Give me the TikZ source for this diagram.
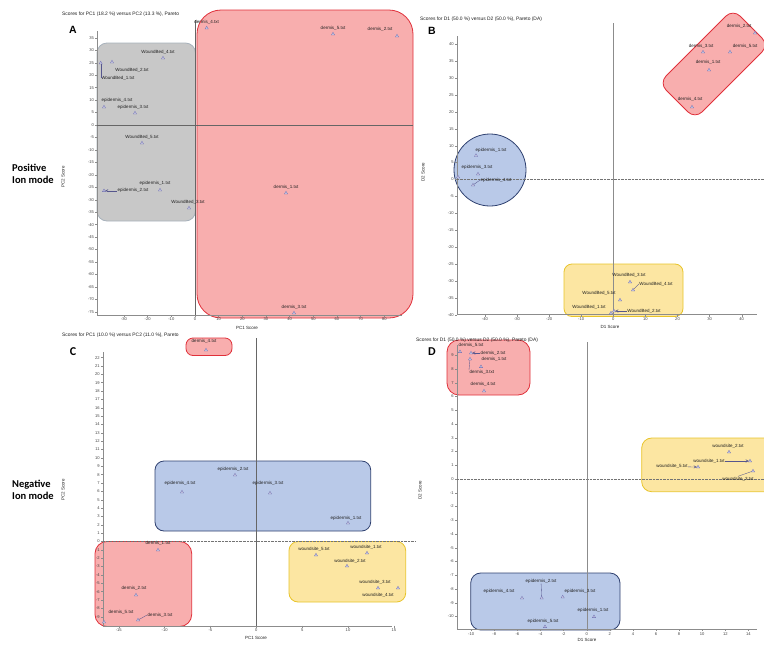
\documentclass[tikz,border=0pt]{standalone}
\usepackage{fontspec}
\setmainfont{Liberation Sans}
\newfontfamily\calib{Carlito}
\usetikzlibrary{arrows.meta, positioning, shapes.geometric}

\definecolor{redfill}{HTML}{F8AEAE}
\definecolor{redline}{HTML}{E0303A}
\definecolor{grayfill}{HTML}{C8C8C8}
\definecolor{grayline}{HTML}{A8B2BC}
\definecolor{bluefill}{HTML}{B9C9E8}
\definecolor{blueline}{HTML}{2F4170}
\definecolor{yelfill}{HTML}{FCE6A2}
\definecolor{yelline}{HTML}{E8C42A}
\definecolor{mkcol}{HTML}{6C6CB0}
\definecolor{txtcol}{HTML}{202020}
\definecolor{axcol}{HTML}{8C8C8C}

\begin{document}
\begin{tikzpicture}[x=1pt, y=-1pt, >=stealth, node distance=1.2pt]
    \tikzstyle{mk}=[regular polygon, regular polygon sides=3, draw=mkcol, fill=mkcol!35, minimum size=3.6pt, inner sep=0pt, line width=0.3pt]
    \tikzstyle{lbl}=[font=\fontsize{4.5}{5}\selectfont, text=txtcol, inner sep=0.4pt]
    \tikzstyle{tk}=[font=\fontsize{4.1}{4.5}\selectfont, text=txtcol!85, inner sep=0.8pt]
    \tikzstyle{ttl}=[font=\fontsize{4.9}{5}\selectfont, text=txtcol, anchor=west, inner sep=0pt]
    \tikzstyle{axname}=[font=\fontsize{4.5}{5}\selectfont, text=txtcol, inner sep=0pt]
    \tikzstyle{panel}=[font=\bfseries\fontsize{10.5}{11}\selectfont, inner sep=0pt]
    \tikzstyle{mode}=[font=\calib\bfseries\fontsize{10.5}{12}\selectfont, align=left, inner sep=0pt]
    \tikzstyle{axl}=[draw=axcol, line width=0.4pt]
    \tikzstyle{zl}=[draw=black!60, line width=0.45pt]
    \tikzstyle{dotl}=[draw=black!55, line width=0.4pt, dash pattern=on 0.6pt off 0.8pt]
    \tikzstyle{lead}=[draw=mkcol!80!black, line width=0.35pt]
    \tikzstyle{redbox}=[fill=redfill, draw=redline, line width=0.8pt]
    \tikzstyle{graybox}=[fill=grayfill, draw=grayline, line width=0.8pt]
    \tikzstyle{bluebox}=[fill=bluefill, draw=blueline, line width=0.8pt]
    \tikzstyle{yelbox}=[fill=yelfill, draw=yelline, line width=0.8pt]

    \useasboundingbox (0,0) rectangle (764,646);

    % row labels
    \node[mode, anchor=west] (pos) at (12,174) {Positive\\Ion mode};
    \node[mode, anchor=west] (neg) at (12,490) {Negative\\Ion mode};

    % ---------------- A ----------------
    \draw[graybox, rounded corners=10pt] (97,43) rectangle (195.5,221);
    \draw[redbox, rounded corners=24pt] (197,10) rectangle (413,318);
    \node[ttl] (ttlA) at (62,14) {Scores for PC1 (18.2 \%) versus PC2 (13.3 \%), Pareto};
    \node[panel] (A) at (73,30) {A};
    \draw[axl] (97,31) -- (97,315) -- (402,315);
    \foreach \v in {-75,-70,...,35}
        \draw[axl] (97,{125-2.49*\v}) -- ++(-2,0) node[tk, left] (Ay\v) {\v};
    \foreach \u in {-30,-20,...,80}
        \draw[axl] ({195+2.366*\u},315) -- ++(0,2) node[tk, below] (Ax\u) {\u};
    \draw[zl] (97,125) -- (413,125);
    \draw[zl] (195,20) -- (195,315);
    \node[axname] (xA) at (247,328) {PC1 Score};
    \node[axname, rotate=90] (yA) at (63,177) {PC2 Score};

    \node[mk] (aD4) at (206.7,28) {};
    \node[lbl, above=of aD4] (aD4l) {dermis\_4.txt};
    \node[mk] (aD5) at (333,34) {};
    \node[lbl, above=of aD5] (aD5l) {dermis\_5.txt};
    \node[mk] (aD2) at (397,36) {};
    \node[lbl] (aD2l) at (380,29) {dermis\_2.txt};
    \node[mk] (aW4) at (163,58) {};
    \node[lbl] (aW4l) at (158,52) {WoundBed\_4.txt};
    \node[mk] (aW2) at (112,62) {};
    \node[lbl] (aW2l) at (132,70) {WoundBed\_2.txt};
    \node[mk] (aW1) at (100.7,63) {};
    \node[lbl, anchor=west] (aW1l) at (100.7,78) {WoundBed\_1.txt};
    \draw[lead] (aW1) -- (aW1l.west);
    \node[mk] (aE4) at (104,107) {};
    \node[lbl] (aE4l) at (117,100) {epidermis\_4.txt};
    \node[mk] (aE3) at (135,113) {};
    \node[lbl] (aE3l) at (133,107) {epidermis\_3.txt};
    \node[mk] (aW5) at (142,143) {};
    \node[lbl, above=of aW5] (aW5l) {WoundBed\_5.txt};
    \node[mk] (aE1) at (160,190) {};
    \node[lbl] (aE1l) at (155,183) {epidermis\_1.txt};
    \node[mk] (aE2) at (104,190.7) {};
    \node[lbl] (aE2l) at (133,190.7) {epidermis\_2.txt};
    \draw[lead, ->] (aE2l) -- (aE2);
    \node[mk] (aW3) at (189,208) {};
    \node[lbl] (aW3l) at (188,202) {WoundBed\_3.txt};
    \node[mk] (aD1) at (286,193) {};
    \node[lbl, above=of aD1] (aD1l) {dermis\_1.txt};
    \node[mk] (aD3) at (294,313) {};
    \node[lbl, above=of aD3] (aD3l) {dermis\_3.txt};

    % ---------------- B ----------------
    \draw[redbox, rounded corners=10pt] (659,83) -- (733,9) -- (769,45) -- (695,119) -- cycle;
    \draw[bluebox] (490,170) circle (36pt);
    \draw[yelbox, rounded corners=8pt] (564,264) rectangle (683,316.5);
    \node[ttl] (ttlB) at (420,19) {Scores for D1 (50.0 \%) versus D2 (50.0 \%), Pareto (DA)};
    \node[panel] (B) at (432,31) {B};
    \draw[axl] (456.7,36) -- (456.7,314.5) -- (757,314.5);
    \foreach \v in {-40,-35,...,40}
        \draw[axl] (456.7,{179.5-3.38*\v}) -- ++(-2,0) node[tk, left] (By\v) {\v};
    \foreach \u in {-40,-30,...,40}
        \draw[axl] ({613.3+3.21*\u},314.5) -- ++(0,2) node[tk, below] (Bx\u) {\u};
    \draw[dotl] (456.7,179.5) -- (764,179.5);
    \draw[zl, draw=axcol] (613.3,23) -- (613.3,314.5);
    \node[axname] (xB) at (610,327) {D1 Score};
    \node[axname, rotate=90] (yB) at (423,172) {D2 Score};

    \node[mk] (bD2) at (755,33) {};
    \node[lbl] (bD2l) at (739,26) {dermis\_2.txt};
    \node[mk] (bD3) at (703,52) {};
    \node[lbl] (bD3l) at (701,46.5) {dermis\_3.txt};
    \node[mk] (bD5) at (730,52) {};
    \node[lbl] (bD5l) at (745,46.5) {dermis\_5.txt};
    \node[mk] (bD1) at (709,70) {};
    \node[lbl] (bD1l) at (708,62) {dermis\_1.txt};
    \node[mk] (bD4) at (692,107) {};
    \node[lbl] (bD4l) at (690,99) {dermis\_4.txt};
    \node[mk] (bE1) at (476,155.5) {};
    \node[lbl] (bE1l) at (491,150.5) {epidermis\_1.txt};
    \node[mk] (bE3) at (478,174) {};
    \node[lbl] (bE3l) at (477,167) {epidermis\_3.txt};
    \node[mk] (bE4) at (473,185) {};
    \node[lbl] (bE4l) at (496,180) {epidermis\_4.txt};
    \draw[lead] (bE4) -- (bE4l.west);
    \node[mk] (bE2) at (458,177) {};
    \node[mk] (bW3) at (630,282) {};
    \node[lbl] (bW3l) at (629,275) {WoundBed\_3.txt};
    \node[mk] (bW4) at (633,290) {};
    \node[lbl] (bW4l) at (656,284) {WoundBed\_4.txt};
    \draw[lead] (bW4) -- (bW4l.west);
    \node[mk] (bW5) at (620,300) {};
    \node[lbl] (bW5l) at (599,293) {WoundBed\_5.txt};
    \node[mk] (bW1) at (611,313) {};
    \node[lbl] (bW1l) at (589,307) {WoundBed\_1.txt};
    \node[mk] (bW2) at (614,311) {};
    \node[lbl] (bW2l) at (644,311) {WoundBed\_2.txt};
    \draw[lead, ->] (bW2l) -- (bW2);

    % ---------------- C ----------------
    \draw[redbox, rounded corners=7pt] (186,338) rectangle (232,355.5);
    \draw[bluebox, rounded corners=9pt] (155,461) rectangle (370.7,531);
    \draw[redbox, rounded corners=12pt] (95,541.5) rectangle (191.7,626.5);
    \draw[yelbox, rounded corners=9pt] (289,541.5) rectangle (405.7,602);
    \node[ttl] (ttlC) at (62,335) {Scores for PC1 (10.0 \%) versus PC2 (11.0 \%), Pareto};
    \node[panel, font=\calib\bfseries\fontsize{12}{12}\selectfont] (C) at (73,352) {C};
    \draw[axl] (102.7,352) -- (102.7,625.7) -- (392,625.7);
    \foreach \v in {-9,-8,...,22}
        \draw[axl] (102.7,{541.5-8.36*\v}) -- ++(-2,0) node[tk, left] (Cy\v) {\v};
    \foreach \u in {-15,-10,...,15}
        \draw[axl] ({256.3+9.17*\u},625.7) -- ++(0,2) node[tk, below] (Cx\u) {\u};
    \draw[dotl] (102.7,541.5) -- (415,541.5);
    \draw[zl] (256.6,338) -- (256.6,625.7);
    \node[axname] (xC) at (256,638) {PC1 Score};
    \node[axname, rotate=90] (yC) at (63,490) {PC2 Score};

    \node[mk] (cD4) at (206,350) {};
    \node[lbl] (cD4l) at (204,341.7) {dermis\_4.txt};
    \node[mk] (cE2) at (235,475) {};
    \node[lbl] (cE2l) at (233,469) {epidermis\_2.txt};
    \node[mk] (cE4) at (182,492) {};
    \node[lbl] (cE4l) at (180,483) {epidermis\_4.txt};
    \node[mk] (cE3) at (270,493) {};
    \node[lbl] (cE3l) at (268,483) {epidermis\_3.txt};
    \node[mk] (cE1) at (348,523) {};
    \node[lbl] (cE1l) at (346,518) {epidermis\_1.txt};
    \node[mk] (cD1) at (158,550) {};
    \node[lbl] (cD1l) at (158,543) {dermis\_1.txt};
    \node[mk] (cD2) at (136,595) {};
    \node[lbl] (cD2l) at (134,588) {dermis\_2.txt};
    \node[mk] (cD5) at (104,622) {};
    \node[lbl] (cD5l) at (121,612) {dermis\_5.txt};
    \node[mk] (cD3) at (138,620) {};
    \node[lbl] (cD3l) at (160,615) {dermis\_3.txt};
    \draw[lead] (cD3) -- (cD3l.west);
    \node[mk] (cW5) at (316,555) {};
    \node[lbl] (cW5l) at (314,549) {woundsite\_5.txt};
    \node[mk] (cW1) at (367,553) {};
    \node[lbl] (cW1l) at (366,547) {woundsite\_1.txt};
    \node[mk] (cW2) at (347,566) {};
    \node[lbl] (cW2l) at (350,561) {woundsite\_2.txt};
    \node[mk] (cW3) at (378,588) {};
    \node[lbl] (cW3l) at (375,582) {woundsite\_3.txt};
    \node[mk] (cW4) at (398,588) {};
    \node[lbl] (cW4l) at (378,595) {woundsite\_4.txt};

    % ---------------- D ----------------
    \draw[redbox, rounded corners=12pt] (447,340) rectangle (530,395);
    \draw[yelbox, rounded corners=10pt] (641.7,438) rectangle (775,491.7);
    \draw[bluebox, rounded corners=10pt] (470.7,573) rectangle (620,630);
    \node[ttl] (ttlD) at (416,340) {Scores for D1 (50.0 \%) versus D2 (50.0 \%), Pareto (DA)};
    \node[panel, font=\calib\bfseries\fontsize{12}{12}\selectfont] (D) at (432,352) {D};
    \draw[axl] (456.7,345) -- (456.7,629.3) -- (757,629.3);
    \foreach \v in {-10,-9,...,9}
        \draw[axl] (456.7,{479-13.75*\v}) -- ++(-2,0) node[tk, left] (Dy\v) {\v};
    \foreach \u in {-10,-8,...,14}
        \draw[axl] ({586.7+11.55*\u},629.3) -- ++(0,2) node[tk, below] (Dx\u) {\u};
    \draw[dotl] (456.7,479) -- (764,479);
    \draw[zl, draw=axcol] (587,342) -- (587,629.3);
    \node[axname] (xD) at (587,640) {D1 Score};
    \node[axname, rotate=90] (yD) at (420,490) {D2 Score};

    \node[mk] (dD5) at (460,351.7) {};
    \node[lbl] (dD5l) at (471,345) {dermis\_5.txt};
    \node[mk] (dD2) at (471,353) {};
    \node[lbl] (dD2l) at (493,353) {dermis\_2.txt};
    \draw[lead, ->] (dD2l) -- (dD2);
    \node[mk] (dD1) at (481,366.7) {};
    \node[lbl] (dD1l) at (494,359) {dermis\_1.txt};
    \node[mk] (dD3) at (470,359) {};
    \node[lbl, anchor=west] (dD3l) at (469,372.7) {dermis\_3.txt};
    \draw[lead] (dD3) -- (dD3l.north west);
    \node[mk] (dD4) at (484,391) {};
    \node[lbl] (dD4l) at (483,384) {dermis\_4.txt};
    \node[mk] (dW2) at (729,452) {};
    \node[lbl] (dW2l) at (728,446.5) {woundsite\_2.txt};
    \node[mk] (dW1) at (750,461) {};
    \node[lbl] (dW1l) at (709,461) {woundsite\_1.txt};
    \draw[lead, ->] (dW1l) -- (dW1);
    \node[mk] (dW5) at (698,467) {};
    \node[lbl] (dW5l) at (672,466.7) {woundsite\_5.txt};
    \draw[lead, ->] (dW5l) -- (dW5);
    \node[mk] (dW3) at (753,471) {};
    \node[lbl] (dW3l) at (738,479) {woundsite\_3.txt};
    \draw[lead] (dW3) -- (dW3l.north);
    \node[mk] (dE2) at (541.7,598) {};
    \node[lbl] (dE2l) at (541,581) {epidermis\_2.txt};
    \draw[lead] (dE2l) -- (dE2);
    \node[mk] (dE4) at (522,598) {};
    \node[lbl] (dE4l) at (499,591.7) {epidermis\_4.txt};
    \node[mk] (dE3) at (562.7,597) {};
    \node[lbl] (dE3l) at (580,591) {epidermis\_3.txt};
    \node[mk] (dE1) at (594,616.7) {};
    \node[lbl] (dE1l) at (593,610) {epidermis\_1.txt};
    \node[mk] (dE5) at (545,626.7) {};
    \node[lbl] (dE5l) at (543,621) {epidermis\_5.txt};
\end{tikzpicture}
\end{document}
